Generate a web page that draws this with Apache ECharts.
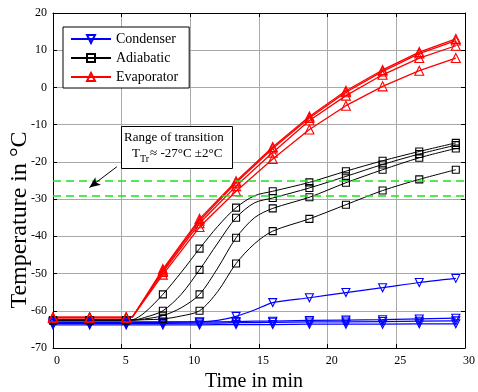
<!DOCTYPE html>
<html><head><meta charset="utf-8">
<script src="https://cdn.jsdelivr.net/npm/echarts@6/dist/echarts.min.js"></script>
<style>html,body{margin:0;padding:0;background:#fff}#c{width:478px;height:392px}</style>
</head><body><div id="c"></div><script>
const FONT = "'Liberation Serif','Times New Roman',serif";

// ---- data ----
const xTicks = [0, 5, 10, 15, 20, 25, 30];
const yTicks = [-70, -60, -50, -40, -30, -20, -10, 0, 10, 20];
const markerTimes = [0, 2.67, 5.33, 8, 10.67, 13.33, 16, 18.67, 21.33, 24, 26.67, 29.33];

const condTimes = [0, 2.67, 5.33, 8, 10.67, 12, 13.33, 14.67, 16, 18.67, 21.33, 24, 26.67, 29.33];
const cond1 = [-63.0, -63.0, -63.0, -63.0, -63.0, -62.6, -61.5, -59.8, -57.8, -56.5, -55.1, -53.8, -52.4, -51.3];
const cond2 = [-63.2, -63.2, -63.2, -63.1, -63.0, -63.0, -62.9, -62.8, -62.8, -62.6, -62.5, -62.4, -62.2, -62.0];
const cond3 = [-63.4, -63.4, -63.4, -63.4, -63.3, -63.3, -63.2, -63.2, -63.1, -63.0, -63.0, -62.9, -62.8, -62.7];
const cond4 = [-63.8, -63.8, -63.8, -63.8, -63.8, -63.7, -63.7, -63.7, -63.7, -63.6, -63.6, -63.6, -63.5, -63.5];

const adiaTimes = [0, 2.67, 5.33, 5.8, 6.67, 8, 9.33, 10.67, 12, 13.33, 14.67, 16, 18.67, 21.33, 24, 26.67, 29.33];
const adia1 = [-62.5, -62.5, -62.5, -62.4, -60.5, -55.6, -49.7, -43.3, -37.3, -32.3, -29.1, -27.9, -25.5, -22.5, -19.7, -17.2, -14.9];
const adia2 = [-62.5, -62.5, -62.5, -62.5, -61.8, -60.0, -55.6, -49.0, -41.8, -35.0, -31.0, -29.7, -27.0, -23.9, -20.7, -17.9, -15.5];
const adia3 = [-62.5, -62.5, -62.5, -62.5, -62.2, -61.3, -59.2, -55.6, -48.5, -40.4, -35.0, -32.5, -29.5, -25.6, -22.1, -18.9, -16.4];
const adia4 = [-62.5, -62.5, -62.5, -62.5, -62.4, -62.2, -61.4, -60.0, -54.8, -47.3, -42.0, -38.6, -35.3, -31.5, -27.7, -24.7, -22.1];

const evapTimes = [0, 2.67, 5.33, 5.8, 8, 10.67, 13.33, 16, 18.67, 21.33, 24, 26.67, 29.33];
const evap1 = [-61.8, -61.8, -61.8, -61.6, -48.8, -35.3, -25.2, -16.0, -7.8, -0.9, 4.7, 9.5, 13.05];
const evap2 = [-61.8, -61.8, -61.8, -61.6, -49.2, -35.8, -25.6, -16.4, -8.2, -1.3, 4.3, 9.1, 12.6];
const evap3 = [-61.8, -61.8, -61.8, -61.6, -49.6, -36.5, -26.5, -17.5, -8.9, -2.2, 3.4, 7.9, 11.2];
const evap4 = [-61.8, -61.8, -61.8, -61.6, -50.3, -37.5, -27.9, -19.2, -11.3, -4.9, 0.3, 4.5, 7.9];

const transitionBand = [-25, -29];
const legendNames = ['Condenser', 'Adiabatic', 'Evaporator'];

// ---- build ----
const isMarker = t => markerTimes.some(m => Math.abs(m - t) < 1e-6);
const DOWN_TRI = 'path://M0,0L10,0L5,9Z';

function mk(name, times, vals, color, symbol, size, width, smooth) {
  return {
    type: 'line', name, smooth,
    symbol, symbolSize: size, showSymbol: true, showAllSymbol: true,
    data: times.map((t, i) => isMarker(t) ? [t, vals[i]] : { value: [t, vals[i]], symbol: 'none' }),
    lineStyle: { color, width },
    itemStyle: { color: 'rgba(255,255,255,0)', borderColor: color, borderWidth: 1.1 },
    emphasis: { disabled: true }, animation: false
  };
}

const series = [
  {
    type: 'line', name: 'band', data: [], silent: true, animation: false,
    markLine: {
      silent: true, symbol: ['none', 'none'], label: { show: false },
      lineStyle: { color: '#1fe01f', width: 1.5, type: [8, 5] },
      emphasis: { disabled: true },
      data: [
        { yAxis: transitionBand[0] }, { yAxis: transitionBand[1] },
        [{ coord: [4.65, -21.3], symbol: 'none' }, { coord: [2.65, -26.9], symbol: 'arrow', symbolSize: [7, 11], lineStyle: { color: '#000', width: 1, type: 'solid' } }]
      ]
    }
  },
  mk('Condenser', condTimes, cond1, '#0000ff', DOWN_TRI, 8, 1.2, 0.25),
  mk('Condenser', condTimes, cond2, '#0000ff', DOWN_TRI, 8, 1.2, false),
  mk('Condenser', condTimes, cond3, '#0000ff', DOWN_TRI, 8, 1.2, false),
  mk('Condenser', condTimes, cond4, '#0000ff', DOWN_TRI, 8, 1.2, false),
  mk('Adiabatic', adiaTimes, adia1, '#000000', 'rect', 7, 1, 0.3),
  mk('Adiabatic', adiaTimes, adia2, '#000000', 'rect', 7, 1, 0.3),
  mk('Adiabatic', adiaTimes, adia3, '#000000', 'rect', 7, 1, 0.3),
  mk('Adiabatic', adiaTimes, adia4, '#000000', 'rect', 7, 1, 0.3),
  mk('Evaporator', evapTimes, evap1, '#ff0000', 'triangle', 9, 1.3, false),
  mk('Evaporator', evapTimes, evap2, '#ff0000', 'triangle', 9, 1.3, false),
  mk('Evaporator', evapTimes, evap3, '#ff0000', 'triangle', 9, 1.3, false),
  mk('Evaporator', evapTimes, evap4, '#ff0000', 'triangle', 9, 1.3, false)
];

const ctx = document.createElement('canvas').getContext('2d');
function tw(txt, size) { ctx.font = size + 'px "Liberation Serif"'; return ctx.measureText(txt).width; }
const ax = 132, ay = 154;
const wT = tw('T', 13), wTr = tw('Tr', 10);

const axisCommon = {
  axisLine: { show: true, onZero: false, lineStyle: { color: '#000', width: 1 } },
  axisTick: { show: true, inside: true, length: 4, lineStyle: { color: '#000' } }
};

const option = {
  backgroundColor: '#fff',
  animation: false,
  grid: { left: 53, right: 1, top: 13, bottom: 44, containLabel: false },
  xAxis: [
    Object.assign({
      type: 'value', min: xTicks[0], max: xTicks[xTicks.length - 1], interval: 5, position: 'bottom',
      axisLabel: { show: true, fontFamily: FONT, fontSize: 12, color: '#000', margin: 7, padding: [0, 0, 0, 8] },
      splitLine: { show: true, lineStyle: { color: '#a9a9a9', width: 1 } }
    }, axisCommon),
    Object.assign({
      type: 'value', min: xTicks[0], max: xTicks[xTicks.length - 1], interval: 5, position: 'top',
      axisLabel: { show: false }, splitLine: { show: false }
    }, axisCommon)
  ],
  yAxis: [
    Object.assign({
      type: 'value', min: yTicks[0], max: yTicks[yTicks.length - 1], interval: 10, position: 'left',
      axisLabel: { show: true, fontFamily: FONT, fontSize: 12, color: '#000', margin: 6, padding: [4, 0, 0, 0] },
      splitLine: { show: true, lineStyle: { color: '#a9a9a9', width: 1 } }
    }, axisCommon),
    Object.assign({
      type: 'value', min: yTicks[0], max: yTicks[yTicks.length - 1], interval: 10, position: 'right',
      axisLabel: { show: false }, splitLine: { show: false }
    }, axisCommon)
  ],
  legend: {
    show: true, data: legendNames, orient: 'vertical', left: 63, top: 27,
    backgroundColor: '#fff', borderColor: '#000', borderWidth: 1, borderRadius: 0,
    padding: [5, 11, 4, 7], itemGap: 5, itemWidth: 40, itemHeight: 10, selectedMode: false,
    textStyle: { fontFamily: FONT, fontSize: 14, color: '#000' }
  },
  graphic: [
    { type: 'text', x: 20, y: 220, rotation: Math.PI / 2, z: 10,
      style: { text: 'Temperature in °C', font: '24px ' + FONT, fill: '#000', align: 'center', verticalAlign: 'middle' } },
    { type: 'text', x: 254, y: 382, z: 10,
      style: { text: 'Time in min', font: '20px ' + FONT, fill: '#000', align: 'center', verticalAlign: 'middle' } },
    { type: 'rect', shape: { x: 121.5, y: 126.5, width: 111, height: 42 }, z: 20,
      style: { fill: '#fff', stroke: '#000', lineWidth: 1 } },
    { type: 'text', x: 124, y: 138, z: 21,
      style: { text: 'Range of transition', font: '13px ' + FONT, fill: '#000', align: 'left', verticalAlign: 'middle' } },
    { type: 'text', x: ax, y: ay, z: 21,
      style: { text: 'T', font: '13px ' + FONT, fill: '#000', align: 'left', verticalAlign: 'middle' } },
    { type: 'text', x: ax + wT, y: ay + 5, z: 21,
      style: { text: 'Tr', font: '10px ' + FONT, fill: '#000', align: 'left', verticalAlign: 'middle' } },
    { type: 'text', x: ax + wT + wTr + 1, y: ay, z: 21,
      style: { text: '≈ -27°C ±2°C', font: '13px ' + FONT, fill: '#000', align: 'left', verticalAlign: 'middle' } }
  ],
  series
};

const chart = echarts.init(document.getElementById('c'), null, { renderer: 'canvas' });
chart.setOption(option);
</script></body></html>
